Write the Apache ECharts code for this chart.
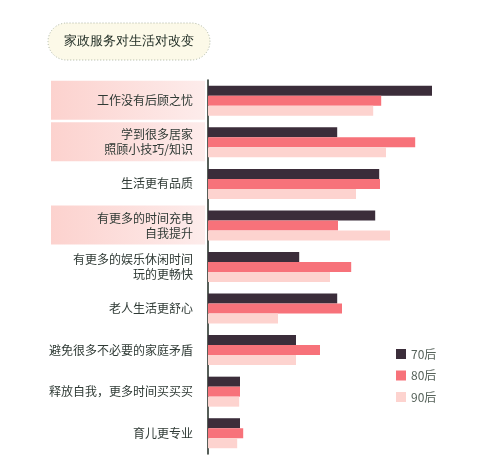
<!DOCTYPE html>
<html><head><meta charset="utf-8">
<script src="https://cdn.jsdelivr.net/npm/echarts@6/dist/echarts.min.js"></script>
<style>html,body{margin:0;padding:0;background:#fff}#c{width:480px;height:460px}</style>
</head><body><div id="c"></div>
<script>
var titleText = '家政服务对生活对改变';
var categories = ['工作没有后顾之忧', '学到很多居家\n照顾小技巧/知识', '生活更有品质', '有更多的时间充电\n自我提升', '有更多的娱乐休闲时间\n玩的更畅快', '老人生活更舒心', '避免很多不必要的家庭矛盾', '释放自我，更多时间买买买', '育儿更专业'];
var highlighted = [true, true, false, true, false, false, false, false, false];
var seriesNames = ['70后', '80后', '90后'];
var s70 = [56, 32.3, 42.8, 41.8, 22.8, 32.3, 22, 8, 8];
var s80 = [43.3, 51.8, 43, 32.5, 35.8, 33.5, 28, 8, 8.8];
var s90 = [41.3, 44.5, 37, 45.5, 30.5, 17.5, 22, 7.8, 7.3];
var colors = ['#3b2d3a', '#f7727a', '#fdd3cf'];

var FONT = '"Noto Sans CJK SC", "Noto Sans", sans-serif';
var chart = echarts.init(document.getElementById('c'), null, {renderer: 'canvas'});
var data = [s70, s80, s90];
var option = {
  animation: false,
  textStyle: {fontFamily: FONT},
  grid: {left: 208, top: 80, width: 240, height: 374},
  xAxis: {type: 'value', min: 0, max: 60, show: false},
  yAxis: {
    type: 'category', data: categories, inverse: true, offset: 3,
    axisLine: {show: true, lineStyle: {color: '#1f2a22', width: 1.5}},
    axisTick: {show: false},
    axisLabel: {fontSize: 12, color: '#2f3a35', margin: 12, lineHeight: 15, align: 'right', fontFamily: FONT}
  },
  legend: {
    orient: 'vertical', left: 396, top: 348, padding: 0, itemWidth: 10, itemHeight: 10, itemGap: 9.5,
    icon: 'rect', data: seriesNames,
    textStyle: {fontSize: 12, color: '#56625a', fontFamily: FONT}
  },
  series: seriesNames.map(function (n, i) {
    return {name: n, type: 'bar', data: data[i], barWidth: 10, barGap: '0%',
      itemStyle: {color: colors[i]}};
  })
};
chart.setOption(option);

var g = [{
  type: 'group', children: [
    {type: 'rect', shape: {x: 48, y: 23, width: 162, height: 37, r: 18.5},
     style: {fill: '#fcf9e8', stroke: '#a9b3a0', lineWidth: 1, lineDash: [1, 2]}},
    {type: 'text', x: 129, y: 41.5, style: {text: titleText, fontSize: 13, fill: '#1d2a22', font: '13px ' + FONT, align: 'center', verticalAlign: 'middle'}}
  ]
}];
categories.forEach(function (c, i) {
  if (!highlighted[i]) return;
  var cy = chart.convertToPixel({yAxisIndex: 0}, i);
  g.push({type: 'rect', z: -10, shape: {x: 51, y: cy - 20, width: 154, height: 39},
    style: {fill: new echarts.graphic.LinearGradient(0, 0, 1, 0, [{offset: 0, color: '#fcd2ce'}, {offset: 1, color: '#fdeceb'}])}});
});
chart.setOption({graphic: g});
</script></body></html>
